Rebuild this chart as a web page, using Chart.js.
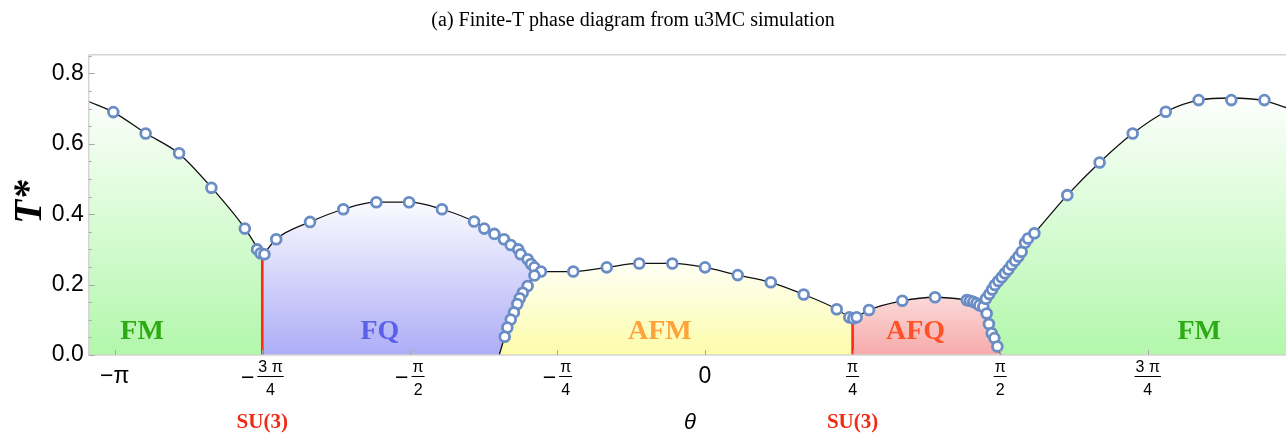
<!DOCTYPE html>
<html>
<head>
<meta charset="utf-8">
<title>Finite-T phase diagram</title>
<script src="https://cdn.jsdelivr.net/npm/chart.js@4.4.1/dist/chart.umd.min.js"></script>
<style>
  html, body { margin: 0; padding: 0; background: #fff; }
  #wrap { width: 1286px; height: 434px; }
</style>
</head>
<body>
<div id="wrap"><canvas id="phaseChart" width="1286" height="434"></canvas></div>
<script>
const PI = Math.PI;

// --- phase boundaries: theta (rad) and T* along each curve ---
const fmLeftTheta = [-3.28, -3.149, -2.977, -2.799, -2.627, -2.449, -2.356];
const fmLeftT     = [0.720, 0.690, 0.630, 0.572, 0.476, 0.360, 0.282];

const fqTheta = [-2.356, -2.282, -2.102, -1.925, -1.749, -1.575, -1.400, -1.229, -1.121, -1.034, -0.981, -0.926, -0.873];
const fqT     = [0.282, 0.329, 0.378, 0.414, 0.434, 0.434, 0.414, 0.379, 0.344, 0.3125, 0.286, 0.2585, 0.237];

const afmTheta = [-1.095, -1.066, -1.034, -0.999, -0.970, -0.944, -0.908, -0.873, -0.701, -0.523, -0.350, -0.174, 0.000, 0.174, 0.350, 0.525, 0.701, 0.785];
const afmT     = [0.000, 0.052, 0.101, 0.145, 0.177, 0.196, 0.226, 0.237, 0.237, 0.249, 0.260, 0.260, 0.249, 0.227, 0.2065, 0.172, 0.130, 0.100];

const afqTheta = [0.785, 0.807, 0.873, 1.050, 1.224, 1.393, 1.428, 1.465, 1.490, 1.502, 1.517, 1.534, 1.561, 1.575];
const afqT     = [0.100, 0.107, 0.128, 0.154, 0.164, 0.156, 0.152, 0.148, 0.118, 0.090, 0.062, 0.038, 0.022, 0.000];

const fmRightTheta = [1.465, 1.513, 1.579, 1.650, 1.712, 1.753, 1.928, 2.100, 2.276, 2.452, 2.627, 2.801, 2.977, 3.092];
const fmRightT     = [0.148, 0.173, 0.221, 0.268, 0.322, 0.346, 0.454, 0.547, 0.629, 0.691, 0.724, 0.730, 0.722, 0.703];

// SU(3) points: vertical lines from T*=0 up to the boundary
const su3Theta = [-3 * PI / 4, PI / 4];
const su3Top   = [0.282, 0.100];

// --- u3MC transition temperatures ---
const mcTheta = [
  -3.149, -2.977, -2.799, -2.627, -2.449, -2.384, -2.365, -2.345,
  -2.282, -2.102, -1.925, -1.749, -1.575, -1.400, -1.229, -1.175, -1.121, -1.070,
  -1.034, -0.994, -0.981, -0.944, -0.926, -0.908, -0.873, -0.908,
  -0.944, -0.970, -0.986, -0.999, -1.017, -1.034, -1.052, -1.066,
  -0.701, -0.523, -0.350, -0.174, 0.000, 0.174, 0.350, 0.525, 0.701, 0.768, 0.789, 0.807,
  0.873, 1.050, 1.224, 1.393, 1.410, 1.428, 1.445, 1.460,
  1.481, 1.499, 1.511, 1.526, 1.540, 1.556,
  1.495, 1.513, 1.528, 1.543, 1.561, 1.579, 1.596, 1.614, 1.632, 1.650, 1.668, 1.685, 1.703, 1.719, 1.753,
  1.928, 2.100, 2.276, 2.452, 2.627, 2.801, 2.977
];
const mcT = [
  0.690, 0.629, 0.573, 0.475, 0.359, 0.300, 0.289, 0.286,
  0.329, 0.378, 0.414, 0.434, 0.434, 0.414, 0.379, 0.359, 0.344, 0.329,
  0.3125, 0.300, 0.286, 0.272, 0.2585, 0.249, 0.237, 0.226,
  0.196, 0.177, 0.161, 0.145, 0.121, 0.101, 0.078, 0.052,
  0.237, 0.249, 0.260, 0.260, 0.249, 0.227, 0.2065, 0.172, 0.130, 0.107, 0.104, 0.107,
  0.128, 0.154, 0.164, 0.156, 0.154, 0.151, 0.147, 0.141,
  0.137, 0.118, 0.088, 0.062, 0.048, 0.024,
  0.160, 0.173, 0.186, 0.199, 0.210, 0.221, 0.232, 0.243, 0.256, 0.268, 0.280, 0.293, 0.319, 0.331, 0.346,
  0.454, 0.547, 0.629, 0.691, 0.724, 0.724, 0.724
];

// --- axes ---
const yTicks = [0.0, 0.2, 0.4, 0.6, 0.8];
const xTickValues = [-PI, -3 * PI / 4, -PI / 2, -PI / 4, 0, PI / 4, PI / 2, 3 * PI / 4];
const xTickLabels = ['−π', '−3π/4', '−π/2', '−π/4', '0', 'π/4', 'π/2', '3π/4'];

// --- phase names and where they sit ---
const phaseNames = ['FM', 'FQ', 'AFM', 'AFQ', 'FM'];
const phaseLabelTheta = [-2.996, -1.73, -0.24, 1.12, 2.63];
const phaseLabelT = [0.065, 0.065, 0.065, 0.065, 0.065];
const phaseLabelColors = ['#2eaa14', '#5a60ea', '#ffa23a', '#ff5226', '#2eaa14'];

const toPoints = (xs, ys) => xs.map((x, i) => ({ x: x, y: ys[i] }));

// vertical gradient from a saturated colour at T*=0 to white at topT
function regionFill(bottomColor, topT) {
  return function(context) {
    const chart = context.chart;
    const area = chart.chartArea;
    if (!area) return 'rgba(0,0,0,0)';
    const y = chart.scales.y;
    const g = chart.ctx.createLinearGradient(0, y.getPixelForValue(0), 0, y.getPixelForValue(topT));
    g.addColorStop(0, bottomColor);
    g.addColorStop(1, '#ffffff');
    return g;
  };
}

function boundary(xs, ys, bottomColor, topT, order) {
  return {
    type: 'line',
    data: toPoints(xs, ys),
    borderColor: '#111',
    borderWidth: 1.3,
    backgroundColor: regionFill(bottomColor, topT),
    fill: 'origin',
    cubicInterpolationMode: 'monotone',
    pointRadius: 0,
    order: order
  };
}

function su3Line(i) {
  return {
    type: 'line',
    data: [{ x: su3Theta[i], y: 0 }, { x: su3Theta[i], y: su3Top[i] }],
    borderColor: '#ff2a12',
    borderWidth: 2.6,
    pointRadius: 0,
    fill: false,
    order: 2
  };
}

// text pieces and tick marks drawn around the plot area
const decorPlugin = {
  id: 'decor',
  afterDatasetsDraw(chart) {
    const { ctx, scales: { x, y } } = chart;
    ctx.save();
    ctx.textAlign = 'center';
    ctx.textBaseline = 'middle';
    ctx.font = 'bold 28px "Liberation Serif"';
    phaseNames.forEach((name, i) => {
      ctx.fillStyle = phaseLabelColors[i];
      ctx.fillText(name, x.getPixelForValue(phaseLabelTheta[i]), y.getPixelForValue(phaseLabelT[i]));
    });
    ctx.restore();
  },
  afterDraw(chart) {
    const { ctx, chartArea: area, scales: { x, y } } = chart;
    ctx.save();

    // frame: top and left edges, bottom axis
    ctx.strokeStyle = '#d4d4d4';
    ctx.lineWidth = 1.5;
    ctx.beginPath();
    ctx.moveTo(area.left, area.top);
    ctx.lineTo(area.right, area.top);
    ctx.moveTo(area.left, area.top);
    ctx.lineTo(area.left, area.bottom);
    ctx.lineTo(area.right, area.bottom);
    ctx.stroke();

    // inward tick marks
    ctx.strokeStyle = '#a8a8a8';
    ctx.lineWidth = 1;
    ctx.beginPath();
    for (let v = 0; v <= 0.851; v += 0.05) {
      const py = Math.round(y.getPixelForValue(v)) + 0.5;
      const major = Math.abs(v / 0.2 - Math.round(v / 0.2)) < 1e-6;
      ctx.moveTo(area.left, py);
      ctx.lineTo(area.left + (major ? 6 : 3), py);
    }
    xTickValues.forEach(v => {
      const px = Math.round(x.getPixelForValue(v)) + 0.5;
      ctx.moveTo(px, area.bottom);
      ctx.lineTo(px, area.bottom - 5);
    });
    ctx.stroke();

    // theta tick labels, fractions drawn stacked
    ctx.fillStyle = '#000';
    ctx.textBaseline = 'alphabetic';
    xTickValues.forEach((v, i) => drawThetaLabel(ctx, x.getPixelForValue(v), xTickLabels[i]));

    // SU(3) markers under the axis
    ctx.fillStyle = '#f02a14';
    ctx.font = 'bold 21px "Liberation Serif"';
    ctx.textAlign = 'center';
    su3Theta.forEach(t => ctx.fillText('SU(3)', x.getPixelForValue(t), 428));

    // axis titles
    ctx.fillStyle = '#000';
    ctx.font = 'italic 22px "Liberation Sans"';
    ctx.fillText('θ', 690, 429);

    ctx.save();
    ctx.translate(31, 202);
    ctx.rotate(-PI / 2);
    ctx.font = 'italic bold 39px "Liberation Serif"';
    ctx.textBaseline = 'middle';
    ctx.fillText('T*', 0, 0);
    ctx.restore();

    // caption
    ctx.font = '20px "Liberation Serif"';
    ctx.fillText('(a) Finite-T phase diagram from u3MC simulation', 633, 26);

    ctx.restore();
  }
};

function drawThetaLabel(ctx, px, label) {
  const neg = label.startsWith('−');
  const body = neg ? label.slice(1) : label;
  if (!body.includes('/')) {
    ctx.font = '23px "Liberation Sans"';
    ctx.textAlign = 'center';
    ctx.fillText(label, px, 383);
    return;
  }
  const parts = body.split('/');
  const num = parts[0].replace(/(\d)π/, '$1 π');
  const den = parts[1];
  ctx.font = '16px "Liberation Sans"';
  const w = Math.max(ctx.measureText(num).width, ctx.measureText(den).width) + 2;
  ctx.font = '23px "Liberation Sans"';
  const signW = neg ? ctx.measureText('−').width + 3 : 0;
  const left = px - (signW + w) / 2;
  if (neg) {
    ctx.textAlign = 'left';
    ctx.fillText('−', left, 385);
  }
  const cx = left + signW + w / 2;
  ctx.font = '16px "Liberation Sans"';
  ctx.textAlign = 'center';
  ctx.fillText(num, cx, 372);
  ctx.fillText(den, cx, 395);
  ctx.fillRect(cx - w / 2, 376, w, 1);
}

const chart = new Chart(document.getElementById('phaseChart'), {
  type: 'line',
  data: {
    datasets: [
      boundary(fqTheta, fqT, '#adadf7', 0.46, 10),
      boundary(afmTheta, afmT, '#fcfcab', 0.30, 9),
      boundary(fmRightTheta, fmRightT, '#b2f7ab', 0.76, 8),
      boundary(afqTheta, afqT, '#f7aaaa', 0.30, 7),
      boundary(fmLeftTheta, fmLeftT, '#b2f7ab', 0.76, 6),
      su3Line(0),
      su3Line(1),
      {
        type: 'scatter',
        data: toPoints(mcTheta, mcT),
        pointRadius: 4.9,
        pointBorderWidth: 2.8,
        pointBackgroundColor: '#ffffff',
        pointBorderColor: '#6a8dc6',
        showLine: false,
        order: 0
      }
    ]
  },
  options: {
    responsive: false,
    animation: false,
    devicePixelRatio: 1,
    layout: { autoPadding: false, padding: { top: 54.7, left: 0, right: 0, bottom: 0 } },
    plugins: { legend: { display: false }, tooltip: { enabled: false } },
    scales: {
      x: {
        type: 'linear',
        min: -3.28,
        max: 3.092,
        grid: { display: false },
        border: { display: false },
        ticks: { display: false },
        afterFit: s => { s.height = 79; }
      },
      y: {
        type: 'linear',
        min: 0,
        max: 0.853,
        grid: { display: false, drawTicks: false },
        border: { display: false },
        afterBuildTicks: s => { s.ticks = yTicks.map(v => ({ value: v })); },
        afterFit: s => { s.width = 88.7; },
        ticks: {
          padding: 5,
          color: '#000',
          font: { family: '"Liberation Sans"', size: 23 },
          callback: v => v.toFixed(1)
        }
      }
    }
  },
  plugins: [decorPlugin]
});
</script>
</body>
</html>
